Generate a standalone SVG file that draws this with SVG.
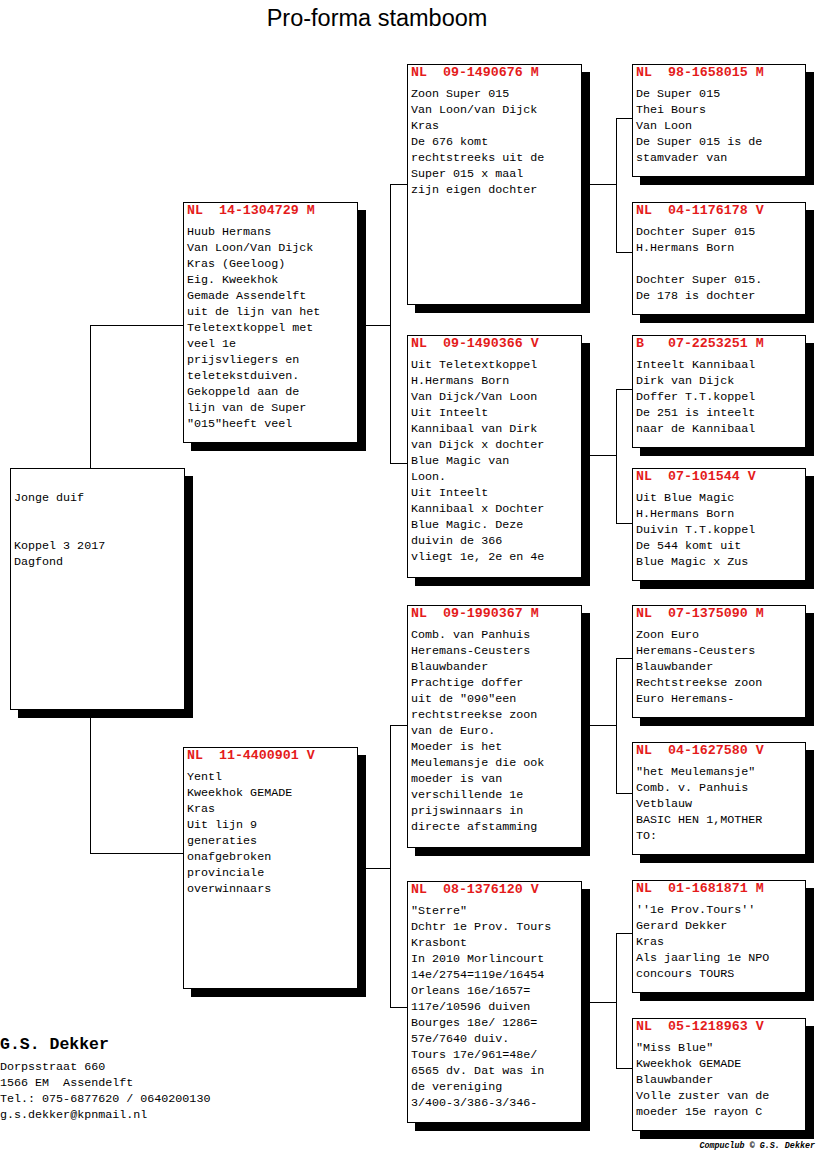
<svg xmlns="http://www.w3.org/2000/svg" width="816" height="1172" viewBox="0 0 816 1172">
<style>
.sh{fill:#000}
.bx{fill:#fff;stroke:#000;stroke-width:1}
.hd{font-family:"Liberation Mono",monospace;font-weight:bold;font-size:13.3px;fill:#e41b1b;white-space:pre}
.tx{font-family:"Liberation Mono",monospace;font-size:11.7px;fill:#000;white-space:pre}
.ln{fill:none;stroke:#000;stroke-width:1}
</style>
<rect width="816" height="1172" fill="#fff"/>
<text x="377" y="26" text-anchor="middle" font-family="Liberation Sans, Arial, sans-serif" font-size="23.5" fill="#000">Pro-forma stamboom</text>
<g id="connectors" class="ln">
<path d="M90.5 325.5V853.5M90 325.5H183M90 853.5H183"/>
<path d="M357 325.5H390.5M390.5 184.5V463.5M390 184.5H407M390 463.5H407"/>
<path d="M357 868.5H390.5M390.5 725.5V1007.5M390 725.5H407M390 1007.5H407"/>
<path d="M581 184.5H616.5M616.5 118.5V252.5M616 118.5H632M616 252.5H632"/>
<path d="M581 455.5H616.5M616.5 389.5V523.5M616 389.5H632M616 523.5H632"/>
<path d="M581 725.5H616.5M616.5 658.5V793.5M616 658.5H632M616 793.5H632"/>
<path d="M581 1002.5H616.5M616.5 933.5V1068.5M616 933.5H632M616 1068.5H632"/>
</g>
<g id="root">
<rect class="sh" x="18" y="476" width="175" height="242"/>
<rect class="bx" x="10.5" y="468.5" width="174" height="241"/>
<text class="tx" x="14" y="501">Jonge duif<tspan x="14" dy="48">Koppel 3 2017</tspan><tspan x="14" dy="16">Dagfond</tspan></text>
</g>
<g id="n-14-1304729">
<rect class="sh" x="191" y="210" width="175" height="241"/>
<rect class="bx" x="183.5" y="202.5" width="174" height="240"/>
<text class="hd" x="187" y="214">NL  14-1304729 M</text>
<text class="tx" x="187" y="235">Huub Hermans<tspan x="187" dy="16">Van Loon/Van Dijck</tspan><tspan x="187" dy="16">Kras (Geeloog)</tspan><tspan x="187" dy="16">Eig. Kweekhok</tspan><tspan x="187" dy="16">Gemade Assendelft</tspan><tspan x="187" dy="16">uit de lijn van het</tspan><tspan x="187" dy="16">Teletextkoppel met</tspan><tspan x="187" dy="16">veel 1e</tspan><tspan x="187" dy="16">prijsvliegers en</tspan><tspan x="187" dy="16">teletekstduiven.</tspan><tspan x="187" dy="16">Gekoppeld aan de</tspan><tspan x="187" dy="16">lijn van de Super</tspan><tspan x="187" dy="16">"015"heeft veel</tspan></text>
</g>
<g id="n-11-4400901">
<rect class="sh" x="191" y="755" width="175" height="242"/>
<rect class="bx" x="183.5" y="747.5" width="174" height="241"/>
<text class="hd" x="187" y="759">NL  11-4400901 V</text>
<text class="tx" x="187" y="780">Yentl<tspan x="187" dy="16">Kweekhok GEMADE</tspan><tspan x="187" dy="16">Kras</tspan><tspan x="187" dy="16">Uit lijn 9</tspan><tspan x="187" dy="16">generaties</tspan><tspan x="187" dy="16">onafgebroken</tspan><tspan x="187" dy="16">provinciale</tspan><tspan x="187" dy="16">overwinnaars</tspan></text>
</g>
<g id="n-09-1490676">
<rect class="sh" x="415" y="72" width="175" height="241"/>
<rect class="bx" x="407.5" y="64.5" width="174" height="240"/>
<text class="hd" x="411" y="76">NL  09-1490676 M</text>
<text class="tx" x="411" y="97">Zoon Super 015<tspan x="411" dy="16">Van Loon/van Dijck</tspan><tspan x="411" dy="16">Kras</tspan><tspan x="411" dy="16">De 676 komt</tspan><tspan x="411" dy="16">rechtstreeks uit de</tspan><tspan x="411" dy="16">Super 015 x maal</tspan><tspan x="411" dy="16">zijn eigen dochter</tspan></text>
</g>
<g id="n-09-1490366">
<rect class="sh" x="415" y="343" width="175" height="243"/>
<rect class="bx" x="407.5" y="335.5" width="174" height="242"/>
<text class="hd" x="411" y="347">NL  09-1490366 V</text>
<text class="tx" x="411" y="368">Uit Teletextkoppel<tspan x="411" dy="16">H.Hermans Born</tspan><tspan x="411" dy="16">Van Dijck/Van Loon</tspan><tspan x="411" dy="16">Uit Inteelt</tspan><tspan x="411" dy="16">Kannibaal van Dirk</tspan><tspan x="411" dy="16">van Dijck x dochter</tspan><tspan x="411" dy="16">Blue Magic van</tspan><tspan x="411" dy="16">Loon.</tspan><tspan x="411" dy="16">Uit Inteelt</tspan><tspan x="411" dy="16">Kannibaal x Dochter</tspan><tspan x="411" dy="16">Blue Magic. Deze</tspan><tspan x="411" dy="16">duivin de 366</tspan><tspan x="411" dy="16">vliegt 1e, 2e en 4e</tspan></text>
</g>
<g id="n-09-1990367">
<rect class="sh" x="415" y="613" width="175" height="243"/>
<rect class="bx" x="407.5" y="605.5" width="174" height="242"/>
<text class="hd" x="411" y="617">NL  09-1990367 M</text>
<text class="tx" x="411" y="638">Comb. van Panhuis<tspan x="411" dy="16">Heremans-Ceusters</tspan><tspan x="411" dy="16">Blauwbander</tspan><tspan x="411" dy="16">Prachtige doffer</tspan><tspan x="411" dy="16">uit de "090"een</tspan><tspan x="411" dy="16">rechtstreekse zoon</tspan><tspan x="411" dy="16">van de Euro.</tspan><tspan x="411" dy="16">Moeder is het</tspan><tspan x="411" dy="16">Meulemansje die ook</tspan><tspan x="411" dy="16">moeder is van</tspan><tspan x="411" dy="16">verschillende 1e</tspan><tspan x="411" dy="16">prijswinnaars in</tspan><tspan x="411" dy="16">directe afstamming</tspan></text>
</g>
<g id="n-08-1376120">
<rect class="sh" x="415" y="889" width="175" height="242"/>
<rect class="bx" x="407.5" y="881.5" width="174" height="241"/>
<text class="hd" x="411" y="893">NL  08-1376120 V</text>
<text class="tx" x="411" y="914">"Sterre"<tspan x="411" dy="16">Dchtr 1e Prov. Tours</tspan><tspan x="411" dy="16">Krasbont</tspan><tspan x="411" dy="16">In 2010 Morlincourt</tspan><tspan x="411" dy="16">14e/2754=119e/16454</tspan><tspan x="411" dy="16">Orleans 16e/1657=</tspan><tspan x="411" dy="16">117e/10596 duiven</tspan><tspan x="411" dy="16">Bourges 18e/ 1286=</tspan><tspan x="411" dy="16">57e/7640 duiv.</tspan><tspan x="411" dy="16">Tours 17e/961=48e/</tspan><tspan x="411" dy="16">6565 dv. Dat was in</tspan><tspan x="411" dy="16">de vereniging</tspan><tspan x="411" dy="16">3/400-3/386-3/346-</tspan></text>
</g>
<g id="n-98-1658015">
<rect class="sh" x="640" y="72" width="174" height="113"/>
<rect class="bx" x="632.5" y="64.5" width="173" height="112"/>
<text class="hd" x="636" y="76">NL  98-1658015 M</text>
<text class="tx" x="636" y="97">De Super 015<tspan x="636" dy="16">Thei Bours</tspan><tspan x="636" dy="16">Van Loon</tspan><tspan x="636" dy="16">De Super 015 is de</tspan><tspan x="636" dy="16">stamvader van</tspan></text>
</g>
<g id="n-04-1176178">
<rect class="sh" x="640" y="210" width="174" height="113"/>
<rect class="bx" x="632.5" y="202.5" width="173" height="112"/>
<text class="hd" x="636" y="214">NL  04-1176178 V</text>
<text class="tx" x="636" y="235">Dochter Super 015<tspan x="636" dy="16">H.Hermans Born</tspan><tspan x="636" dy="32">Dochter Super 015.</tspan><tspan x="636" dy="16">De 178 is dochter</tspan></text>
</g>
<g id="n-07-2253251">
<rect class="sh" x="640" y="343" width="174" height="113"/>
<rect class="bx" x="632.5" y="335.5" width="173" height="112"/>
<text class="hd" x="636" y="347">B   07-2253251 M</text>
<text class="tx" x="636" y="368">Inteelt Kannibaal<tspan x="636" dy="16">Dirk van Dijck</tspan><tspan x="636" dy="16">Doffer T.T.koppel</tspan><tspan x="636" dy="16">De 251 is inteelt</tspan><tspan x="636" dy="16">naar de Kannibaal</tspan></text>
</g>
<g id="n-07-101544">
<rect class="sh" x="640" y="476" width="174" height="113"/>
<rect class="bx" x="632.5" y="468.5" width="173" height="112"/>
<text class="hd" x="636" y="480">NL  07-101544 V</text>
<text class="tx" x="636" y="501">Uit Blue Magic<tspan x="636" dy="16">H.Hermans Born</tspan><tspan x="636" dy="16">Duivin T.T.koppel</tspan><tspan x="636" dy="16">De 544 komt uit</tspan><tspan x="636" dy="16">Blue Magic x Zus</tspan></text>
</g>
<g id="n-07-1375090">
<rect class="sh" x="640" y="613" width="174" height="113"/>
<rect class="bx" x="632.5" y="605.5" width="173" height="112"/>
<text class="hd" x="636" y="617">NL  07-1375090 M</text>
<text class="tx" x="636" y="638">Zoon Euro<tspan x="636" dy="16">Heremans-Ceusters</tspan><tspan x="636" dy="16">Blauwbander</tspan><tspan x="636" dy="16">Rechtstreekse zoon</tspan><tspan x="636" dy="16">Euro Heremans-</tspan></text>
</g>
<g id="n-04-1627580">
<rect class="sh" x="640" y="750" width="174" height="113"/>
<rect class="bx" x="632.5" y="742.5" width="173" height="112"/>
<text class="hd" x="636" y="754">NL  04-1627580 V</text>
<text class="tx" x="636" y="775">"het Meulemansje"<tspan x="636" dy="16">Comb. v. Panhuis</tspan><tspan x="636" dy="16">Vetblauw</tspan><tspan x="636" dy="16">BASIC HEN 1,MOTHER</tspan><tspan x="636" dy="16">TO:</tspan></text>
</g>
<g id="n-01-1681871">
<rect class="sh" x="640" y="888" width="174" height="113"/>
<rect class="bx" x="632.5" y="880.5" width="173" height="112"/>
<text class="hd" x="636" y="892">NL  01-1681871 M</text>
<text class="tx" x="636" y="913">''1e Prov.Tours''<tspan x="636" dy="16">Gerard Dekker</tspan><tspan x="636" dy="16">Kras</tspan><tspan x="636" dy="16">Als jaarling 1e NPO</tspan><tspan x="636" dy="16">concours TOURS</tspan></text>
</g>
<g id="n-05-1218963">
<rect class="sh" x="640" y="1026" width="174" height="113"/>
<rect class="bx" x="632.5" y="1018.5" width="173" height="112"/>
<text class="hd" x="636" y="1030">NL  05-1218963 V</text>
<text class="tx" x="636" y="1051">"Miss Blue"<tspan x="636" dy="16">Kweekhok GEMADE</tspan><tspan x="636" dy="16">Blauwbander</tspan><tspan x="636" dy="16">Volle zuster van de</tspan><tspan x="636" dy="16">moeder 15e rayon C</tspan></text>
</g>
<g id="owner">
<text x="0" y="1049" font-family="Liberation Mono, monospace" font-weight="bold" font-size="16.5" fill="#000">G.S. Dekker</text>
<text class="tx" x="0" y="1070">Dorpsstraat 660<tspan x="0" dy="16">1566 EM  Assendelft</tspan><tspan x="0" dy="16">Tel.: 075-6877620 / 0640200130</tspan><tspan x="0" dy="16">g.s.dekker@kpnmail.nl</tspan></text>
</g>
<text x="815" y="1148" text-anchor="end" font-family="Liberation Mono, monospace" font-weight="bold" font-style="italic" font-size="8.4" fill="#000">Compuclub © G.S. Dekker</text>
</svg>
